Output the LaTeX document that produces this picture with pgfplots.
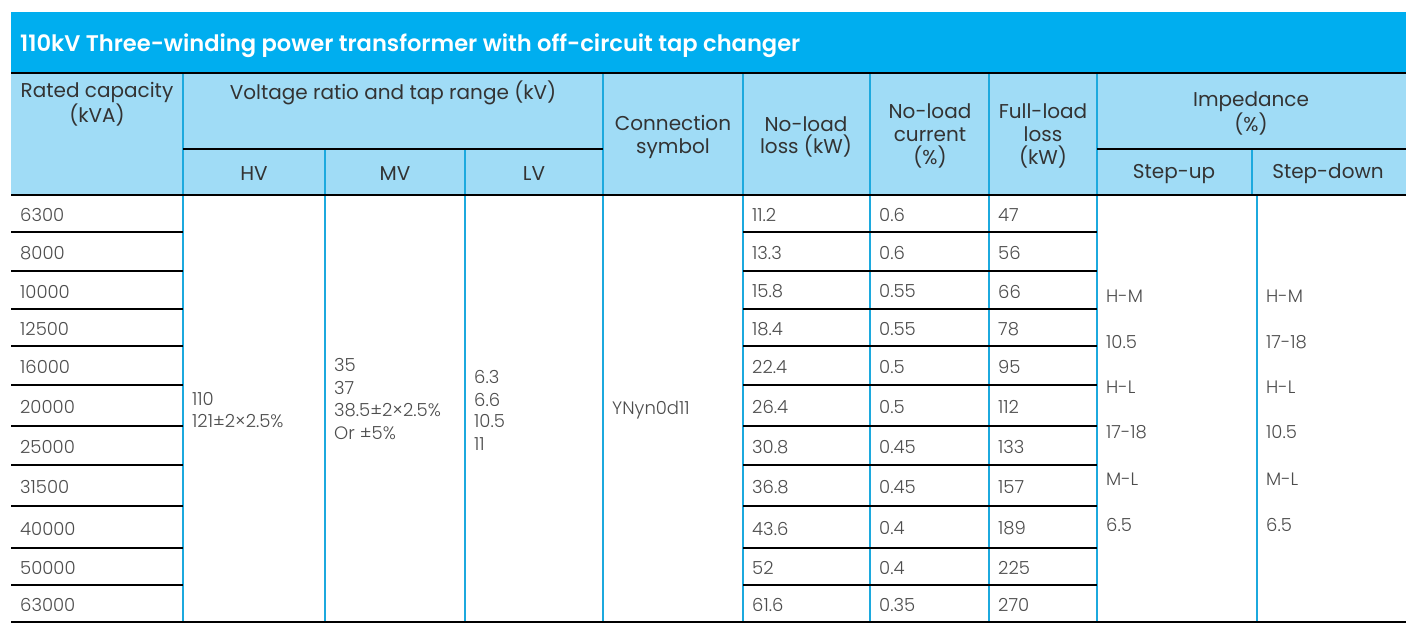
\documentclass[border=0pt]{standalone}
\usepackage{fontspec}
\setmainfont{Poppins}
\newfontfamily\plight{Poppins Light}
\newfontfamily\pmed{Poppins SemiBold}
\usepackage{pgfplots}
\pgfplotsset{compat=1.18}
\usepackage{pgfplotstable}
\definecolor{titlebar}{HTML}{00AEEF}
\definecolor{headbg}{HTML}{A0DCF6}
\definecolor{vline}{HTML}{1CA9DE}
\definecolor{headtxt}{HTML}{333333}
\definecolor{bodytxt}{HTML}{4D4D4D}

\pgfplotstableread{
y     cap    nl    cur   fl
215   6300   11.2  0.6   47
253   8000   13.3  0.6   56
291.5 10000  15.8  0.55  66
329   12500  18.4  0.55  78
367   16000  22.4  0.5   95
407   20000  26.4  0.5   112
447   25000  30.8  0.45  133
487   31500  36.8  0.45  157
528.5 40000  43.6  0.4   189
568   50000  52    0.4   225
605   63000  61.6  0.35  270
}\bodytab

\begin{document}
\begin{tikzpicture}
\begin{axis}[hide axis, scale only axis, width=1414pt, height=628pt,
  xmin=0, xmax=1414, ymin=0, ymax=628, y dir=reverse, clip=false,
  every axis plot/.append style={mark=none, draw=none},
  cellnum/.style={nodes near coords, point meta=explicit symbolic,
    nodes near coords style={anchor=west, inner sep=0pt, text=bodytxt,
      font=\plight\fontsize{18}{23}\selectfont}}]
% backgrounds
\fill[white] (axis cs:0,0) rectangle (axis cs:1414,628);
\fill[titlebar] (axis cs:11,12) rectangle (axis cs:1406,73);
\fill[headbg] (axis cs:11,73) rectangle (axis cs:1406,195);
% vertical lines
\pgfplotsinvokeforeach{183,603,743,870,989,1097}{
  \draw[vline, line width=1.1pt] (axis cs:#1,73) -- (axis cs:#1,622);}
\pgfplotsinvokeforeach{325,465}{
  \draw[vline, line width=1.1pt] (axis cs:#1,149) -- (axis cs:#1,622);}
\draw[vline, line width=1.1pt] (axis cs:1252,149) -- (axis cs:1252,195);
\draw[vline, line width=1.1pt] (axis cs:1257,195) -- (axis cs:1257,622);
% horizontal lines
\draw[black, line width=1.3pt] (axis cs:11,73) -- (axis cs:1406,73);
\draw[black, line width=1.3pt] (axis cs:183,149) -- (axis cs:603,149);
\draw[black, line width=1.3pt] (axis cs:1097,149) -- (axis cs:1406,149);
\draw[black, line width=1.3pt] (axis cs:11,195) -- (axis cs:1406,195);
\pgfplotsinvokeforeach{232,271,309,346,385,426,465,506,548,585}{
  \draw[black, line width=1.3pt] (axis cs:11,#1) -- (axis cs:183,#1);
  \draw[black, line width=1.3pt] (axis cs:743,#1) -- (axis cs:1097,#1);}
\draw[black, line width=1.3pt] (axis cs:11,622) -- (axis cs:1406,622);
% title
\node[anchor=west, inner sep=0pt, text=white, font=\pmed\fontsize{22.6}{26}\selectfont]
  at (axis cs:20,45.5) {110kV Three-winding power transformer with off-circuit tap changer};
% header texts
\begin{scope}[every node/.style={align=center, inner sep=0pt, text=headtxt,
   font=\fontsize{20}{22.8}\selectfont}]
\node at (axis cs:97,104.5) {Rated capacity\\(kVA)};
\node at (axis cs:393,92.5) {Voltage ratio and tap range (kV)};
\node at (axis cs:254,174) {HV};
\node at (axis cs:395,174) {MV};
\node at (axis cs:534,174) {LV};
\node at (axis cs:673,137) {Connection\\symbol};
\node at (axis cs:806,137) {No-load\\loss (kW)};
\node at (axis cs:930,136) {No-load\\current\\(\%)};
\node at (axis cs:1043,136) {Full-load\\loss\\(kW)};
\node at (axis cs:1251,113.5) {Impedance\\(\%)};
\node at (axis cs:1174,174) {Step-up};
\node at (axis cs:1328,174) {Step-down};
\end{scope}
% body numeric columns
\addplot[cellnum] table[x expr=20, y=y, meta=cap] {\bodytab};
\addplot[cellnum] table[x expr=752, y=y, meta=nl] {\bodytab};
\addplot[cellnum] table[x expr=879, y=y, meta=cur] {\bodytab};
\addplot[cellnum] table[x expr=998, y=y, meta=fl] {\bodytab};
% merged cells
\begin{scope}[every node/.style={anchor=west, inner sep=0pt, text=bodytxt,
   font=\plight\fontsize{18}{23}\selectfont}]
\node at (axis cs:192,398.5) {110};
\node at (axis cs:192,421.5) {121±2×2.5\%};
\node at (axis cs:334,364.5) {35};
\node at (axis cs:334,387.5) {37};
\node at (axis cs:334,410.5) {38.5±2×2.5\%};
\node at (axis cs:334,433.5) {Or ±5\%};
\node at (axis cs:474,376.5) {6.3};
\node at (axis cs:474,399.5) {6.6};
\node at (axis cs:474,421.5) {10.5};
\node at (axis cs:474,444.5) {11};
\node at (axis cs:612,410.5) {YNyn0d11};
\node at (axis cs:1106,296.5) {H-M};
\node at (axis cs:1106,342.5) {10.5};
\node at (axis cs:1106,387.5) {H-L};
\node at (axis cs:1106,432.5) {17-18};
\node at (axis cs:1106,479.5) {M-L};
\node at (axis cs:1106,524.5) {6.5};
\node at (axis cs:1266,296.5) {H-M};
\node at (axis cs:1266,342.5) {17-18};
\node at (axis cs:1266,387.5) {H-L};
\node at (axis cs:1266,432.5) {10.5};
\node at (axis cs:1266,479.5) {M-L};
\node at (axis cs:1266,524.5) {6.5};
\end{scope}
\end{axis}
\end{tikzpicture}
\end{document}
